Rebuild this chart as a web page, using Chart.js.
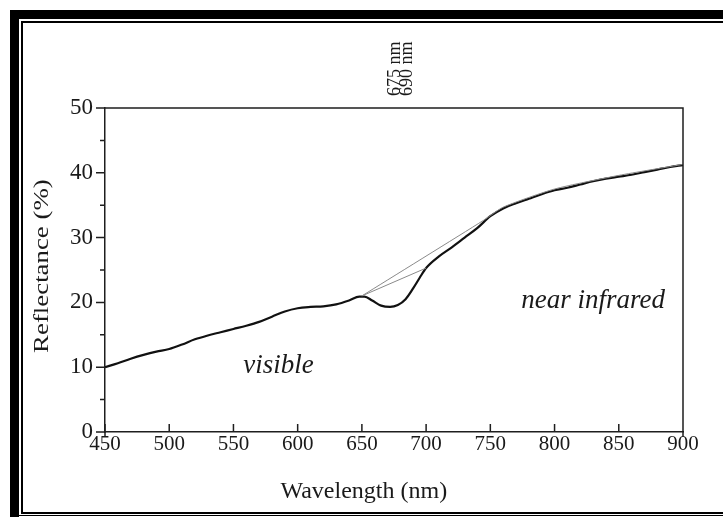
<!DOCTYPE html>
<html><head><meta charset="utf-8">
<script src="https://cdn.jsdelivr.net/npm/chart.js@4.4.0/dist/chart.umd.min.js"></script>
<style>
html,body{margin:0;padding:0;background:#fff;}
#wrap{position:relative;width:723px;height:517px;overflow:hidden;background:#fff;}
canvas{position:absolute;left:0;top:0;}
.b{position:absolute;background:#000;pointer-events:none;}
</style></head><body>
<div id="wrap"><canvas id="c" width="723" height="517"></canvas>
<div class="b" style="left:10px;top:10px;width:9px;height:507px"></div>
<div class="b" style="left:10px;top:10px;width:713px;height:9px"></div>
<div class="b" style="left:21px;top:21px;width:2px;height:493px"></div>
<div class="b" style="left:21px;top:21px;width:702px;height:2px"></div>
<div class="b" style="left:21px;top:512px;width:702px;height:2px"></div>
<div class="b" style="left:19px;top:515px;width:704px;height:1px"></div>
</div>
<script>
// ---- data ----
const wavelength = [450,460,470,480,490,500,510,520,530,540,550,560,570,580,590,600,610,620,630,640,648,652,658,665,672,678,684,690,695,700,710,720,730,740,750,760,770,780,790,800,810,820,830,840,850,860,870,880,890,900];
const reflectance = [10.0,10.6,11.3,11.9,12.4,12.8,13.5,14.3,14.9,15.4,15.9,16.4,17.0,17.8,18.6,19.1,19.3,19.4,19.7,20.3,20.9,20.9,20.3,19.5,19.3,19.6,20.5,22.2,23.8,25.3,27.1,28.5,30.0,31.5,33.3,34.5,35.3,36.0,36.7,37.3,37.7,38.2,38.7,39.1,39.4,39.7,40.1,40.5,40.9,41.2];
const tangentUpperX = [650,745,760,800,850,900];
const tangentUpperY = [21.0,32.7,34.7,37.5,39.6,41.3];
const tangentLowerX = [650,700];
const tangentLowerY = [21.0,25.3];
const yMinorTicks = [5,15,25,35,45];
const markerWavelengths = [675,690];
const markerLabels = ['675 nm','690 nm'];
const regionLabels = ['visible','near infrared'];
const xTitle = 'Wavelength (nm)';
const yTitle = 'Reflectance (%)';

const serif = '"Liberation Serif", "DejaVu Serif", serif';
const toXY = (xs, ys) => xs.map((v,i)=>({x:v,y:ys[i]}));

const decor = {
  id:'decor',
  afterDraw(chart){
    const {ctx, chartArea:a, scales:{x,y}} = chart;
    ctx.save();
    ctx.strokeStyle = '#1e1e1e';
    ctx.lineWidth = 1.5;
    ctx.beginPath();
    ctx.moveTo(a.left, a.top); ctx.lineTo(a.right, a.top); ctx.lineTo(a.right, a.bottom+5);
    ctx.moveTo(a.left, a.bottom); ctx.lineTo(a.left, a.bottom+4);
    y.ticks.forEach(t=>{ const py=y.getPixelForValue(t.value); ctx.moveTo(a.left-9,py); ctx.lineTo(a.left,py); });
    yMinorTicks.forEach(v=>{ const py=y.getPixelForValue(v); ctx.moveTo(a.left-5,py); ctx.lineTo(a.left,py); });
    x.ticks.forEach(t=>{ const px=x.getPixelForValue(t.value); ctx.moveTo(px,a.bottom); ctx.lineTo(px,a.bottom-8); });
    ctx.stroke();
    ctx.fillStyle = '#1a1a1a';
    // axis titles
    ctx.font = '24px ' + serif;
    ctx.textAlign = 'center'; ctx.textBaseline = 'middle';
    ctx.fillText(xTitle, x.getPixelForValue(651.5), a.bottom + 60);
    ctx.save();
    ctx.translate(a.left - 63, y.getPixelForValue(25.6));
    ctx.rotate(-Math.PI/2);
    ctx.scale(1.22, 1);
    ctx.font = '22px ' + serif;
    ctx.fillText(yTitle, 0, 0);
    ctx.restore();
    // region labels
    ctx.font = 'italic 27px ' + serif;
    ctx.fillText(regionLabels[0], x.getPixelForValue(585), y.getPixelForValue(10.2));
    ctx.fillText(regionLabels[1], x.getPixelForValue(830), y.getPixelForValue(20.2));
    // marker labels (vertical)
    ctx.font = '18px ' + serif;
    ctx.textAlign = 'left'; ctx.textBaseline = 'middle';
    const offs = [1, -6];
    markerWavelengths.forEach((w,i)=>{
      ctx.save();
      ctx.translate(x.getPixelForValue(w)+offs[i], a.top-12);
      ctx.rotate(-Math.PI/2);
      ctx.fillText(markerLabels[i], 0, 0);
      ctx.restore();
    });
    ctx.restore();
  }
};

new Chart(document.getElementById('c'), {
  type:'line',
  data:{datasets:[
    {data:toXY(tangentUpperX,tangentUpperY), borderColor:'#8a8a8a', borderWidth:1, pointRadius:0, tension:0.2},
    {data:toXY(tangentLowerX,tangentLowerY), borderColor:'#8a8a8a', borderWidth:1, pointRadius:0},
    {data:toXY(wavelength,reflectance), borderColor:'#111', borderWidth:2.2, pointRadius:0, cubicInterpolationMode:'monotone'}
  ]},
  options:{
    responsive:false, animation:false, devicePixelRatio:1,
    layout:{padding:{left:20, right:40, top:108, bottom:2}},
    plugins:{legend:{display:false}, tooltip:{enabled:false}},
    scales:{
      x:{type:'linear', min:450, max:900,
        ticks:{stepSize:50, color:'#1a1a1a', font:{family:serif, size:21}, padding:0, maxRotation:0, autoSkip:false},
        grid:{display:false, drawTicks:true, tickLength:0},
        border:{display:true, color:'#1e1e1e', width:1.5},
        title:{display:false},
        afterFit(s){ s.height = 83; }
      },
      y:{type:'linear', min:0, max:50,
        ticks:{stepSize:10, color:'#1a1a1a', font:{family:serif, size:23}, padding:3},
        grid:{display:false, drawTicks:true, tickLength:9},
        border:{display:true, color:'#1e1e1e', width:1.5},
        title:{display:false},
        afterFit(s){ s.width = 85; }
      }
    }
  },
  plugins:[decor]
});
</script>
</body></html>
